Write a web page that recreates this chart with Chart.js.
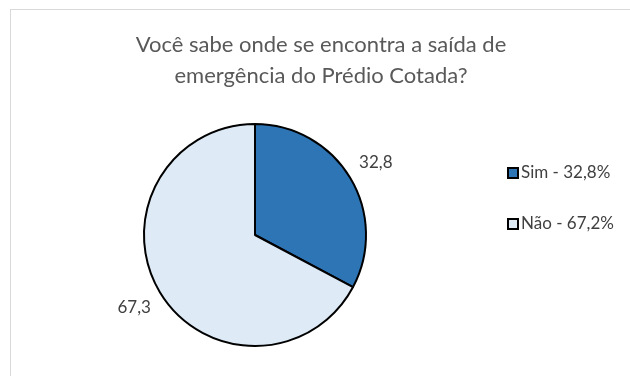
<!DOCTYPE html>
<html>
<head>
<meta charset="utf-8">
<script src="https://cdn.jsdelivr.net/npm/chart.js@4/dist/chart.umd.min.js"></script>
<style>
	body { margin: 0; background: #fff; }
	#wrap { position: relative; width: 630px; height: 376px; overflow: hidden; }
	#frame { position: absolute; left: 10px; top: 9px; width: 640px; height: 400px; border: 1px solid #d9d9d9; }
	#chartCanvas { position: absolute; left: 0; top: 0; }
</style>
</head>
<body>
<div id="wrap">
	<div id="frame"></div>
	<canvas id="chartCanvas" width="630" height="376"></canvas>
</div>
<script>
var titleLines = ['Você sabe onde se encontra a saída de', 'emergência do Prédio Cotada?'];
var categories = ['Sim', 'Não'];
var sliceValues = [32.8, 67.3];
var sliceLabels = ['32,8', '67,3'];
var legendLabels = ['Sim - 32,8%', 'Não - 67,2%'];
var sliceColors = ['#2e75b6', '#deebf7'];

var fontName = 'Lato, "Liberation Sans", sans-serif';

// title, value labels and legend drawn on top of the pie
var extrasPlugin = {
	id: 'extras',
	afterDraw: function(chart) {
		var ctx = chart.ctx;
		ctx.save();

		ctx.fillStyle = '#595959';
		ctx.font = '22px ' + fontName;
		ctx.textAlign = 'center';
		ctx.textBaseline = 'middle';
		ctx.fillText(titleLines[0], 321, 45);
		ctx.fillText(titleLines[1], 321, 76);

		ctx.fillStyle = '#404040';
		ctx.font = '17px ' + fontName;
		var arcs = chart.getDatasetMeta(0).data;
		arcs.forEach(function(arc, i) {
			var p = arc.getProps(['x', 'y', 'startAngle', 'endAngle', 'outerRadius'], true);
			var mid = (p.startAngle + p.endAngle) / 2;
			var dist = p.outerRadius + 30;
			ctx.fillText(sliceLabels[i], p.x + Math.cos(mid) * dist, p.y + Math.sin(mid) * dist);
		});

		ctx.textAlign = 'left';
		var legendY = [173, 224];
		legendLabels.forEach(function(txt, i) {
			ctx.fillStyle = sliceColors[i];
			ctx.fillRect(508, legendY[i] - 5, 10, 10);
			ctx.strokeStyle = '#000';
			ctx.lineWidth = 2;
			ctx.strokeRect(508, legendY[i] - 5, 10, 10);
			ctx.fillStyle = '#404040';
			ctx.fillText(txt, 521, legendY[i]);
		});
		ctx.restore();
	}
};

var ctx = document.getElementById('chartCanvas').getContext('2d');
var myChart = new Chart(ctx, {
	type: 'pie',
	data: {
		labels: categories,
		datasets: [{
			data: sliceValues,
			backgroundColor: sliceColors,
			borderColor: '#000',
			borderWidth: 2
		}]
	},
	options: {
		responsive: false,
		animation: false,
		layout: { padding: { top: 122, bottom: 28, left: 143, right: 263 } },
		plugins: {
			legend: { display: false },
			title: { display: false },
			tooltip: { enabled: false }
		}
	},
	plugins: [extrasPlugin]
});
</script>
</body>
</html>
